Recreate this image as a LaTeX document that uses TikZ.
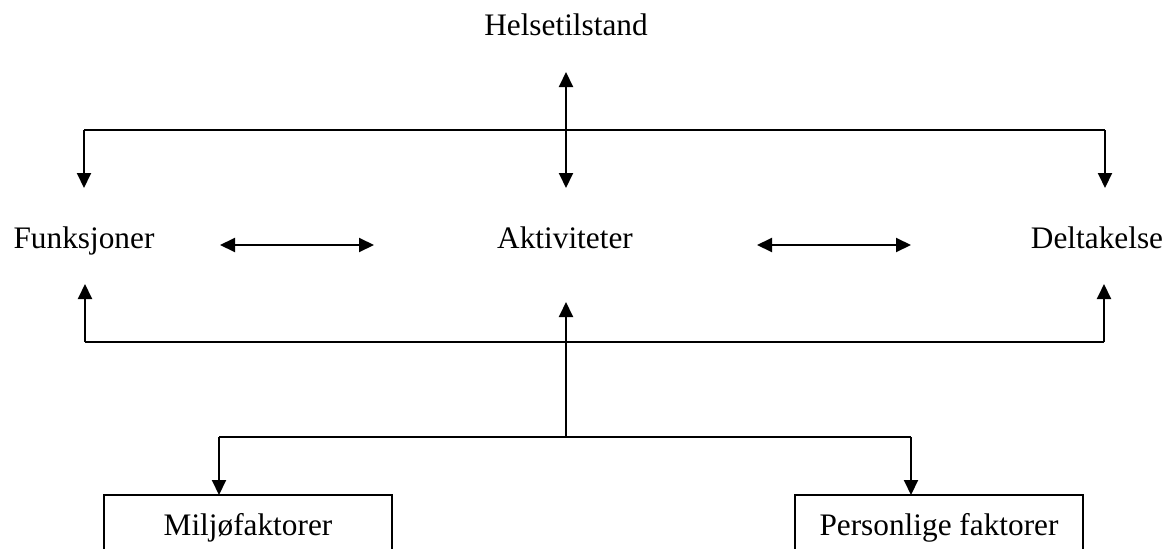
\documentclass[tikz,border=0pt]{standalone}
\usepackage{fontspec}
\setmainfont{Liberation Serif}
\usetikzlibrary{arrows.meta}
\begin{document}
\begin{tikzpicture}[x=1pt,y=-1pt,
  lbl/.style={inner sep=0pt,anchor=base,font=\fontsize{31.3}{36}\selectfont},
  conn/.style={line width=2pt,-{Triangle[length=15pt,width=14pt]}},
  dconn/.style={line width=2pt,{Triangle[length=15pt,width=14pt]}-{Triangle[length=15pt,width=14pt]}},
  plain/.style={line width=2pt},
  boxst/.style={line width=2pt}]
\clip (0,0) rectangle (1173,549);
\useasboundingbox (0,0) rectangle (1173,549);
% texts
\node[lbl] (helse) at (566,35) {Helsetilstand};
\node[lbl] (funk) at (84,248) {Funksjoner};
\node[lbl] (akt) at (565,248) {Aktiviteter};
\node[lbl] (delt) at (1097,248) {Deltakelse};
\node[lbl] (milj) at (248,535) {Miljøfaktorer};
\node[lbl] (pers) at (939,535) {Personlige faktorer};
% boxes
\draw[boxst] (104,575) -- (104,495) -- (392,495) -- (392,575);
\draw[boxst] (795,575) -- (795,495) -- (1083,495) -- (1083,575);
% coordinates
\coordinate (hTop) at (566,72);
\coordinate (hBot) at (566,188);
\coordinate (tL) at (84,130);
\coordinate (tR) at (1105,130);
\coordinate (fTop) at (84,188);
\coordinate (dTop) at (1105,188);
\coordinate (dblLa) at (220,245);
\coordinate (dblLb) at (374,245);
\coordinate (dblRa) at (757,245);
\coordinate (dblRb) at (911,245);
\coordinate (bL) at (85,342);
\coordinate (bR) at (1104,342);
\coordinate (fBot) at (85,284);
\coordinate (dBot) at (1104,284);
\coordinate (aBot) at (566,302);
\coordinate (brMid) at (566,437);
\coordinate (brL) at (219,437);
\coordinate (brR) at (911,437);
\coordinate (mTop) at (219,495);
\coordinate (pTop) at (911,495);
% connectors
\draw[dconn] (hTop) -- (hBot);
\draw[plain] (tL) -- (tR);
\draw[conn] (tL) -- (fTop);
\draw[conn] (tR) -- (dTop);
\draw[dconn] (dblLa) -- (dblLb);
\draw[dconn] (dblRa) -- (dblRb);
\draw[plain] (bL) -- (bR);
\draw[conn] (bL) -- (fBot);
\draw[conn] (bR) -- (dBot);
\draw[conn] (brMid) -- (aBot);
\draw[plain] (brL) -- (brR);
\draw[conn] (brL) -- (mTop);
\draw[conn] (brR) -- (pTop);
\end{tikzpicture}
\end{document}
